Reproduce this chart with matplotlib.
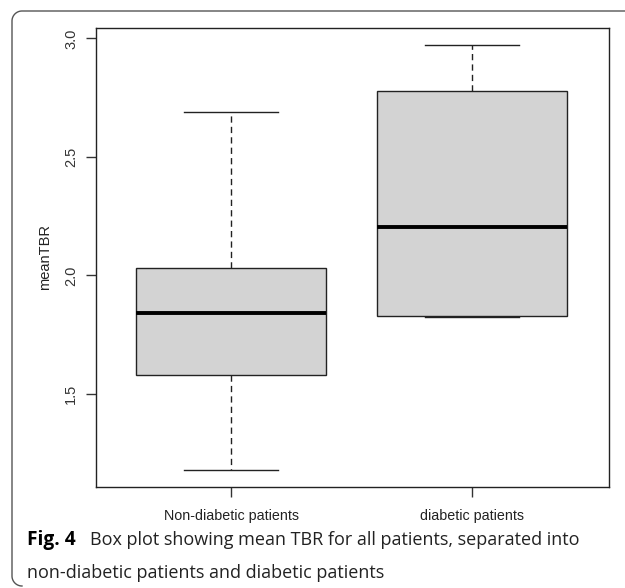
import matplotlib.pyplot as plt
import numpy as np
from matplotlib.lines import Line2D

# five-number summaries
groups = ['Non-diabetic patients', 'diabetic patients']
whisker_low = [1.180, 1.823]
q1 = [1.580, 1.827]
median = [1.842, 2.204]
q3 = [2.032, 2.779]
whisker_high = [2.690, 2.972]
y_ticks = [1.5, 2.0, 2.5, 3.0]

stats = []
for i in range(len(groups)):
    stats.append({'whislo': whisker_low[i], 'q1': q1[i], 'med': median[i],
                  'q3': q3[i], 'whishi': whisker_high[i], 'fliers': []})

fig = plt.figure(figsize=(6.25, 5.88), dpi=100)
ax = fig.add_axes([0.1541, 0.1723, 0.8203, 0.7801])

ax.bxp(stats, positions=[1, 2], widths=0.79, patch_artist=True, showfliers=False,
       boxprops=dict(facecolor='#d3d3d3', edgecolor='#222222', linewidth=1.0),
       medianprops=dict(color='black', linewidth=2.8, solid_capstyle='butt'),
       whiskerprops=dict(color='#222222', linewidth=1.0, linestyle=(0, (4.5, 3))),
       capprops=dict(color='#222222', linewidth=1.0),
       capwidths=0.39)

ax.set_xlim(0.44, 2.57)
ax.set_ylim(1.108, 3.044)
ax.set_xticks([1, 2])
ax.set_xticklabels(groups, fontsize=10.3, family='Liberation Sans', color='#222222')
ax.set_yticks(y_ticks)
ax.set_yticklabels([f'{v:.1f}' for v in y_ticks], rotation=90, va='center',
                   fontsize=10.5, family='Liberation Sans', color='#333333')
ax.tick_params(direction='out', length=7, width=1, color='#333333')
ax.tick_params(axis='x', pad=9)
ax.tick_params(axis='y', pad=6)
ax.set_ylabel('meanTBR', fontsize=10.5, family='Liberation Sans', labelpad=9,
              color='#222222')
for s in ax.spines.values():
    s.set_linewidth(1.0)
    s.set_color('#222222')

# rounded panel frame (top and left sides only)
W, H = 625, 588
r = 10
left, top, bottom = 12, 11, 586
t = np.linspace(0, np.pi / 2, 20)
xs = [W] + list(left + r - r * np.sin(t)) + list(left + r - r * np.cos(t))
ys = [top] + list(top + r - r * np.cos(t)) + list(bottom - r + r * np.sin(t))
fig.add_artist(Line2D([x / W for x in xs], [1 - y / H for y in ys],
                      transform=fig.transFigure, color='#555555', linewidth=1.0))

# caption
cap_font = 'Open Sans'
fig.text(27 / W, 1 - 540 / H, 'Fig. 4', fontsize=13.8, fontweight='bold',
         family=cap_font, va='center', ha='left')
fig.text(90 / W, 1 - 540 / H, 'Box plot showing mean TBR for all patients, separated into',
         fontsize=12.95, family=cap_font, va='center', ha='left', color='#222222')
fig.text(27 / W, 1 - 573 / H, 'non-diabetic patients and diabetic patients',
         fontsize=12.95, family=cap_font, va='center', ha='left', color='#222222')

fig.savefig('out.png', dpi=100)
